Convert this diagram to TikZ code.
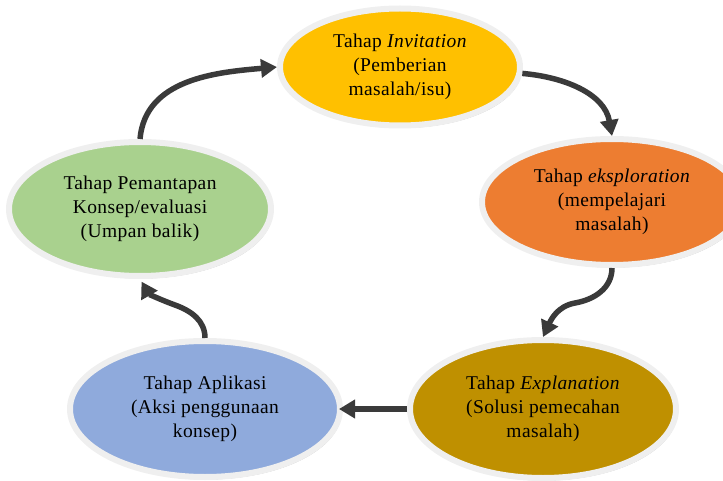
\documentclass[tikz,border=0pt]{standalone}
\usepackage{fontspec}
\setmainfont{Liberation Serif}[LetterSpace=2]
\usetikzlibrary{arrows.meta,shapes.geometric,shadows}
\definecolor{kuning}{HTML}{FFC000}
\definecolor{jingga}{HTML}{ED7D31}
\definecolor{hijau}{HTML}{A9D18E}
\definecolor{emas}{HTML}{BF9000}
\definecolor{biru}{HTML}{8FAADC}
\definecolor{bingkai}{HTML}{EFEFEF}
\definecolor{panah}{HTML}{3A3A3A}
\begin{document}
\begin{tikzpicture}[x=1pt, y=1pt,
   tahap/.style={ellipse, draw=bingkai, line width=6pt, inner sep=0pt, align=center,
      font=\fontsize{19.5}{24}\selectfont,
      drop shadow={shadow xshift=1.5pt, shadow yshift=-2.5pt, opacity=.45, fill=black!60}},
   alur/.style={draw=panah, line width=5.5pt, -{Triangle[length=16pt, width=18pt]}}]
   \useasboundingbox (0, 0) rectangle (723, 480);
   \node[tahap, fill=kuning, minimum width=240, minimum height=117] (inv) at (400, 413)
      {Tahap \textit{Invitation}\\(Pemberian\\masalah/isu)};
   \node[tahap, fill=jingga, minimum width=260, minimum height=126] (eks) at (612, 278)
      {Tahap \textit{eksploration}\\(mempelajari\\masalah)};
   \node[tahap, fill=emas, minimum width=266, minimum height=138] (expl) at (543, 71)
      {Tahap \textit{Explanation}\\(Solusi pemecahan\\masalah)};
   \node[tahap, fill=biru, minimum width=270, minimum height=136] (apl) at (205, 71)
      {Tahap Aplikasi\\(Aksi penggunaan\\konsep)};
   \node[tahap, fill=hijau, minimum width=262, minimum height=134] (pem) at (140, 271)
      {Tahap Pemantapan\\Konsep/evaluasi\\(Umpan balik)};

   \coordinate (s1) at (575, 177);
   \coordinate (s2) at (175, 175);
   \draw[alur] (pem.north) to[out=85, in=185] (inv.west);
   \draw[alur] (inv.-3) to[out=-5, in=100] (eks.north);
   \draw[alur] (eks.south) to[out=-90, in=10] (s1) to[out=190, in=65] (expl.north);
   \draw[alur, shorten >=-4pt] (expl.west) -- (apl.east);
   \draw[alur, shorten >=3pt] (apl.north) to[out=90, in=-20] (s2) to[out=160, in=-60] (pem.south);
\end{tikzpicture}
\end{document}
